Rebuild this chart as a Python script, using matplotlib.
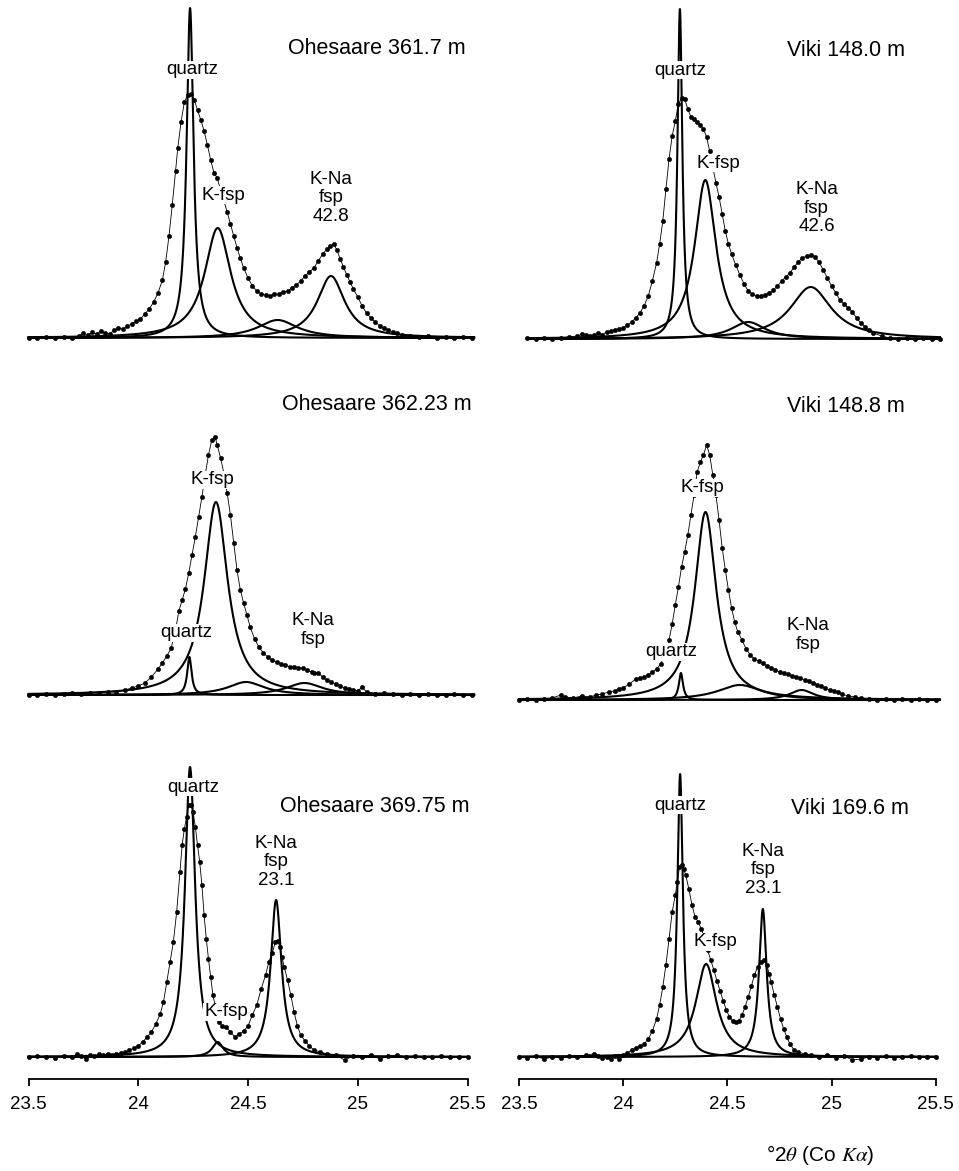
import numpy as np
import matplotlib
matplotlib.use("Agg")
import matplotlib.pyplot as plt

plt.rcParams["font.family"] = ["Liberation Sans", "DejaVu Sans"]
plt.rcParams["mathtext.fontset"] = "stix"

x_oh1 = [23.50, 23.54, 23.58, 23.62, 23.66, 23.70, 23.73, 23.75, 23.77, 23.79, 23.81, 23.83,
         23.85, 23.87, 23.89, 23.91, 23.93, 23.95, 23.97, 23.99, 24.01, 24.03, 24.05, 24.07,
         24.09, 24.11, 24.125, 24.14, 24.155, 24.17, 24.18, 24.195, 24.21, 24.225, 24.24,
         24.255, 24.27, 24.285, 24.30, 24.315, 24.33, 24.345, 24.36, 24.375, 24.39, 24.405,
         24.42, 24.435, 24.45, 24.465, 24.48, 24.50, 24.52, 24.54, 24.56, 24.58, 24.60, 24.62,
         24.64, 24.66, 24.68, 24.70, 24.72, 24.74, 24.76, 24.78, 24.80, 24.82, 24.84, 24.86,
         24.875, 24.89, 24.905, 24.92, 24.935, 24.95, 24.965, 24.98, 25.00, 25.02, 25.04, 25.06,
         25.08, 25.10, 25.12, 25.14, 25.16, 25.18, 25.20, 25.24, 25.28, 25.32, 25.36, 25.40,
         25.44, 25.48, 25.52]
y_oh1 = [0, 0, 1, 0, 1, 0, 2, 5, 3, 6, 4, 7,
         5, 4, 8, 10, 9, 12, 14, 17, 19, 24, 29, 36,
         45, 58, 76, 102, 133, 167, 190, 216, 236, 243, 244,
         238, 228, 218, 207, 193, 178, 165, 160, 148, 137, 126,
         114, 102, 90, 80, 70, 60, 52, 47, 44, 43, 42, 44,
         44, 46, 47, 50, 53, 57, 62, 66, 70, 77, 84, 89,
         92, 94, 88, 79, 71, 63, 56, 49, 41, 32, 25, 20,
         16, 12, 10, 8, 6, 5, 3, 2, 1, 2, 0, 1,
         0, 1, 0]

x_vi1 = [23.54, 23.58, 23.62, 23.66, 23.70, 23.74, 23.78, 23.80, 23.82, 23.84, 23.86, 23.88,
         23.90, 23.92, 23.94, 23.96, 23.98, 24.00, 24.02, 24.04, 24.06, 24.08, 24.10, 24.12,
         24.14, 24.16, 24.175, 24.19, 24.205, 24.22, 24.235, 24.25, 24.265, 24.28, 24.295,
         24.31, 24.325, 24.34, 24.355, 24.37, 24.385, 24.40, 24.415, 24.43, 24.445, 24.46,
         24.475, 24.49, 24.505, 24.52, 24.54, 24.56, 24.58, 24.60, 24.62, 24.64, 24.66, 24.68,
         24.70, 24.72, 24.74, 24.76, 24.78, 24.80, 24.82, 24.84, 24.86, 24.88, 24.90, 24.92,
         24.94, 24.96, 24.98, 25.00, 25.02, 25.04, 25.06, 25.08, 25.10, 25.12, 25.14, 25.16,
         25.18, 25.20, 25.24, 25.28, 25.32, 25.36, 25.40, 25.44, 25.48, 25.52]
y_vi1 = [1, 0, 1, 0, 1, 2, 3, 5, 4, 3, 4, 6,
         4, 7, 8, 9, 10, 11, 14, 17, 21, 26, 33, 43,
         58, 76, 95, 118, 150, 180, 203, 218, 235, 241, 240,
         230, 222, 220, 217, 214, 210, 202, 188, 172, 156, 142,
         125, 108, 95, 85, 74, 64, 55, 48, 45, 43, 43, 44,
         46, 49, 53, 58, 62, 66, 72, 77, 81, 83, 84, 82,
         77, 69, 61, 53, 46, 39, 35, 31, 27, 21, 16, 12,
         9, 6, 3, 1, 0, 1, 0, 1, 0, 0]

x_oh2 = [23.50, 23.54, 23.58, 23.62, 23.66, 23.70, 23.74, 23.78, 23.82, 23.86, 23.90, 23.94,
         23.97, 24.00, 24.03, 24.06, 24.09, 24.11, 24.13, 24.15, 24.17, 24.185, 24.20, 24.215,
         24.23, 24.245, 24.26, 24.275, 24.29, 24.305, 24.32, 24.335, 24.35, 24.36, 24.375,
         24.39, 24.405, 24.42, 24.435, 24.45, 24.465, 24.48, 24.495, 24.51, 24.53, 24.55, 24.57,
         24.59, 24.61, 24.63, 24.65, 24.67, 24.69, 24.71, 24.73, 24.75, 24.77, 24.79, 24.80,
         24.82, 24.84, 24.86, 24.88, 24.90, 24.92, 24.94, 24.96, 24.98, 25.00, 25.02, 25.04,
         25.08, 25.12, 25.16, 25.20, 25.24, 25.28, 25.32, 25.36, 25.40, 25.44, 25.48, 25.52]
y_oh2 = [0, 0, 1, 0, 1, 2, 1, 2, 2, 3, 3, 5,
         7, 9, 12, 18, 26, 32, 39, 47, 65, 84, 95, 106,
         122, 140, 158, 178, 198, 220, 240, 255, 258, 250, 237,
         222, 202, 180, 152, 125, 105, 92, 80, 68, 56, 48, 42,
         38, 35, 33, 31, 30, 28, 28, 27, 27, 25, 23, 22,
         22, 18, 15, 13, 11, 9, 7, 6, 5, 4, 8, 3,
         1, 2, 1, 0, 1, 0, 1, 0, 0, 1, 0, 0]

x_vi2 = [23.50, 23.54, 23.58, 23.62, 23.66, 23.70, 23.72, 23.76, 23.80, 23.84, 23.87, 23.90,
         23.93, 23.96, 23.98, 24.00, 24.03, 24.06, 24.08, 24.10, 24.12, 24.14, 24.16, 24.18,
         24.20, 24.22, 24.235, 24.25, 24.265, 24.28, 24.295, 24.31, 24.325, 24.34, 24.355,
         24.37, 24.385, 24.40, 24.415, 24.43, 24.445, 24.46, 24.475, 24.49, 24.505, 24.52,
         24.535, 24.55, 24.57, 24.59, 24.61, 24.63, 24.65, 24.67, 24.69, 24.71, 24.73, 24.75,
         24.77, 24.79, 24.81, 24.83, 24.85, 24.87, 24.89, 24.91, 24.93, 24.95, 24.97, 24.99,
         25.01, 25.03, 25.05, 25.08, 25.11, 25.14, 25.18, 25.22, 25.26, 25.30, 25.34, 25.38,
         25.42, 25.46, 25.50]
y_vi2 = [0, 1, 0, 1, 2, 5, 3, 2, 4, 3, 5, 6,
         8, 9, 11, 12, 16, 21, 22, 23, 25, 28, 31, 36,
         45, 60, 76, 95, 113, 133, 148, 165, 185, 205, 228,
         238, 245, 255, 245, 225, 205, 180, 152, 130, 110, 92,
         78, 68, 60, 51, 45, 41, 39, 37, 34, 32, 30, 28,
         27, 26, 24, 23, 22, 20, 19, 17, 15, 14, 12, 10,
         9, 8, 6, 4, 3, 2, 1, 0, 1, 0, 1, 0,
         1, 0, 0]

x_oh3 = [23.50, 23.54, 23.58, 23.62, 23.66, 23.70, 23.72, 23.74, 23.76, 23.78, 23.80, 23.82,
         23.84, 23.86, 23.88, 23.90, 23.92, 23.94, 23.96, 23.98, 24.00, 24.02, 24.04, 24.06,
         24.08, 24.10, 24.115, 24.13, 24.145, 24.16, 24.175, 24.19, 24.20, 24.21, 24.22, 24.23,
         24.24, 24.25, 24.26, 24.27, 24.28, 24.29, 24.30, 24.31, 24.32, 24.33, 24.34, 24.35,
         24.36, 24.37, 24.38, 24.40, 24.42, 24.44, 24.46, 24.48, 24.50, 24.52, 24.54, 24.56,
         24.58, 24.595, 24.61, 24.625, 24.635, 24.645, 24.655, 24.665, 24.68, 24.695, 24.71,
         24.725, 24.74, 24.76, 24.78, 24.80, 24.83, 24.86, 24.90, 24.94, 24.98, 25.02, 25.06,
         25.10, 25.14, 25.18, 25.22, 25.26, 25.30, 25.34, 25.38, 25.42, 25.46, 25.50]
y_oh3 = [0, 1, 0, -1, 1, 0, 3, 1, -2, 2, 1, 3,
         2, 3, 2, 3, 4, 5, 7, 9, 11, 15, 20, 25,
         33, 43, 55, 75, 95, 115, 145, 185, 212, 228, 240, 252,
         252, 245, 230, 212, 195, 172, 142, 118, 98, 80, 62, 52,
         42, 35, 31, 30, 25, 20, 23, 26, 31, 42, 52, 68,
         82, 95, 104, 115, 116, 110, 100, 90, 77, 62, 45,
         31, 22, 16, 11, 7, 5, 3, 2, -3, 1, 0, 2,
         -2, 1, 2, 0, 1, 0, 0, 1, 0, 0, 0]

x_vi3 = [23.50, 23.54, 23.58, 23.62, 23.66, 23.70, 23.74, 23.78, 23.82, 23.86, 23.88, 23.90,
         23.92, 23.94, 23.96, 23.98, 24.00, 24.02, 24.04, 24.06, 24.08, 24.10, 24.12, 24.14,
         24.16, 24.175, 24.19, 24.205, 24.22, 24.235, 24.25, 24.26, 24.27, 24.28, 24.29, 24.30,
         24.315, 24.33, 24.345, 24.36, 24.375, 24.39, 24.405, 24.42, 24.435, 24.45, 24.465,
         24.48, 24.495, 24.51, 24.525, 24.54, 24.555, 24.57, 24.585, 24.60, 24.615, 24.63,
         24.645, 24.66, 24.675, 24.69, 24.70, 24.71, 24.725, 24.74, 24.755, 24.77, 24.785,
         24.80, 24.82, 24.84, 24.87, 24.90, 24.94, 24.98, 25.02, 25.06, 25.10, 25.14, 25.18,
         25.22, 25.26, 25.30, 25.34, 25.38, 25.42, 25.46, 25.50]
y_vi3 = [0, -1, 1, -2, 0, -1, 1, 0, 2, 3, 1, -1,
         0, -2, 1, -2, 2, 4, 7, 9, 11, 13, 18, 26,
         38, 52, 70, 92, 118, 145, 162, 175, 190, 192, 188, 182,
         168, 152, 140, 135, 128, 118, 107, 97, 87, 76, 66,
         56, 47, 40, 36, 35, 36, 42, 50, 60, 71, 82,
         90, 95, 97, 92, 83, 75, 62, 50, 38, 28, 20,
         13, 7, 5, 3, 2, 0, 2, -1, 1, -3, -2, 0,
         -1, 1, -1, 0, 1, 0, 0, 0]

# ── fitted components: position (°2θ), height, half-width ──────────────────
pos_oh1 = [24.236, 24.362, 24.635, 24.878]
hgt_oh1 = [330, 110, 18, 62]
hw_oh1 = [0.019, 0.072, 0.11, 0.076]

pos_vi1 = [24.272, 24.394, 24.600, 24.900]
hgt_vi1 = [330, 159, 17, 52]
hw_vi1 = [0.014, 0.062, 0.10, 0.12]

pos_oh2 = [24.233, 24.354, 24.491, 24.757]
hgt_oh2 = [38, 193, 13, 12]
hw_oh2 = [0.012, 0.065, 0.10, 0.10]

pos_vi2 = [24.277, 24.395, 24.560, 24.856]
hgt_vi2 = [27, 188, 15, 10]
hw_vi2 = [0.012, 0.062, 0.13, 0.07]

pos_oh3 = [24.236, 24.362, 24.628]
hgt_oh3 = [290, 15, 157]
hw_oh3 = [0.028, 0.03, 0.03]

pos_vi3 = [24.273, 24.398, 24.670]
hgt_vi3 = [283, 93, 148]
hw_vi3 = [0.016, 0.06, 0.022]

titles = ["Ohesaare 361.7 m", "Viki 148.0 m", "Ohesaare 362.23 m",
          "Viki 148.8 m", "Ohesaare 369.75 m", "Viki 169.6 m"]
ticks = [23.5, 24, 24.5, 25, 25.5]
tick_labels = ["23.5", "24", "24.5", "25", "25.5"]

# ── layout (pixels) ─────────────────────────────────────────────────────────
W, H = 959, 1171
fig = plt.figure(figsize=(W / 100, H / 100), dpi=100)
fig.patch.set_facecolor("white")

XMIN, XMAX = 23.45, 25.6
YMIN, YMAX = -22, 338


def add_panel(x235, ppu, base):
    """x235: pixel column of 23.5, ppu: pixels per degree, base: pixel row of zero."""
    left = x235 + (XMIN - 23.5) * ppu
    right = x235 + (XMAX - 23.5) * ppu
    top = base - YMAX
    bottom = base - YMIN
    ax = fig.add_axes([left / W, 1 - bottom / H, (right - left) / W, (bottom - top) / H])
    ax.set_xlim(XMIN, XMAX)
    ax.set_ylim(YMIN, YMAX)
    ax.patch.set_alpha(0)
    for s in ax.spines.values():
        s.set_visible(False)
    ax.set_xticks([])
    ax.set_yticks([])
    return ax


def lorentz(x, c, h, w):
    return h / (1 + ((x - c) / w) ** 2)


def draw(ax, xo, yo, pos, hgt, hw, xr):
    xx = np.linspace(xr[0], xr[1], 3000)
    for c, h, w in zip(pos, hgt, hw):
        ax.plot(xx, lorentz(xx, c, h, w), color="black", lw=1.5, zorder=2)
    ax.plot(xo, yo, "-", color="black", lw=0.6, marker="o", ms=3.2,
            mfc="black", mec="black", mew=0.3, zorder=3)


def label(ax, x, y, s, size=13.5):
    ax.text(x, y, s, ha="center", va="center", fontsize=size, zorder=6,
            linespacing=1.15,
            bbox=dict(facecolor="white", edgecolor="none", pad=0.6))


axes = [
    add_panel(28.5, 219.5, 338), add_panel(519, 208.4, 339),
    add_panel(28.5, 219.5, 695), add_panel(519, 208.4, 700),
    add_panel(28.5, 219.5, 1057), add_panel(519, 208.4, 1057),
]

draw(axes[0], x_oh1, y_oh1, pos_oh1, hgt_oh1, hw_oh1, (23.5, 25.53))
draw(axes[1], x_vi1, y_vi1, pos_vi1, hgt_vi1, hw_vi1, (23.54, 25.52))
draw(axes[2], x_oh2, y_oh2, pos_oh2, hgt_oh2, hw_oh2, (23.5, 25.53))
draw(axes[3], x_vi2, y_vi2, pos_vi2, hgt_vi2, hw_vi2, (23.5, 25.52))
draw(axes[4], x_oh3, y_oh3, pos_oh3, hgt_oh3, hw_oh3, (23.5, 25.5))
draw(axes[5], x_vi3, y_vi3, pos_vi3, hgt_vi3, hw_vi3, (23.5, 25.5))

# titles
title_pos = [(25.49, 290), (25.35, 289), (25.52, 290), (25.35, 293), (25.51, 250), (25.37, 248)]
for ax, t, (tx, ty) in zip(axes, titles, title_pos):
    ax.text(tx, ty, t, ha="right", va="center", fontsize=15.5, zorder=6)

# phase labels
label(axes[0], 24.247, 268, "quartz")
label(axes[0], 24.389, 143, "K-fsp")
label(axes[0], 24.879, 140, "K-Na\nfsp\n42.8")

label(axes[1], 24.272, 269, "quartz")
label(axes[1], 24.456, 176, "K-fsp")
label(axes[1], 24.928, 131, "K-Na\nfsp\n42.6")

label(axes[2], 24.339, 215, "K-fsp")
label(axes[2], 24.217, 62, "quartz")
label(axes[2], 24.795, 65, "K-Na\nfsp")

label(axes[3], 24.381, 212, "K-fsp")
label(axes[3], 24.232, 48, "quartz")
label(axes[3], 24.887, 65, "K-Na\nfsp")

label(axes[4], 24.252, 270, "quartz")
label(axes[4], 24.400, 45, "K-fsp")
label(axes[4], 24.628, 195, "K-Na\nfsp\n23.1")

label(axes[5], 24.273, 252, "quartz")
label(axes[5], 24.441, 115, "K-fsp")
label(axes[5], 24.670, 187, "K-Na\nfsp\n23.1")

# bottom axes with ticks
for ax in axes[4:]:
    sp = ax.spines["bottom"]
    sp.set_visible(True)
    sp.set_bounds(23.5, 25.5)
    sp.set_linewidth(1.3)
    ax.set_xticks(ticks)
    ax.set_xticklabels(tick_labels)
    ax.tick_params(axis="x", direction="out", length=5, width=1.3, pad=7,
                   labelsize=13.5)

fig.text(820 / W, 1 - 1155 / H, r"°2$\theta$ (Co $K\alpha$)", ha="center", va="center",
         fontsize=15)

fig.savefig("out.png", dpi=100, facecolor="white")
